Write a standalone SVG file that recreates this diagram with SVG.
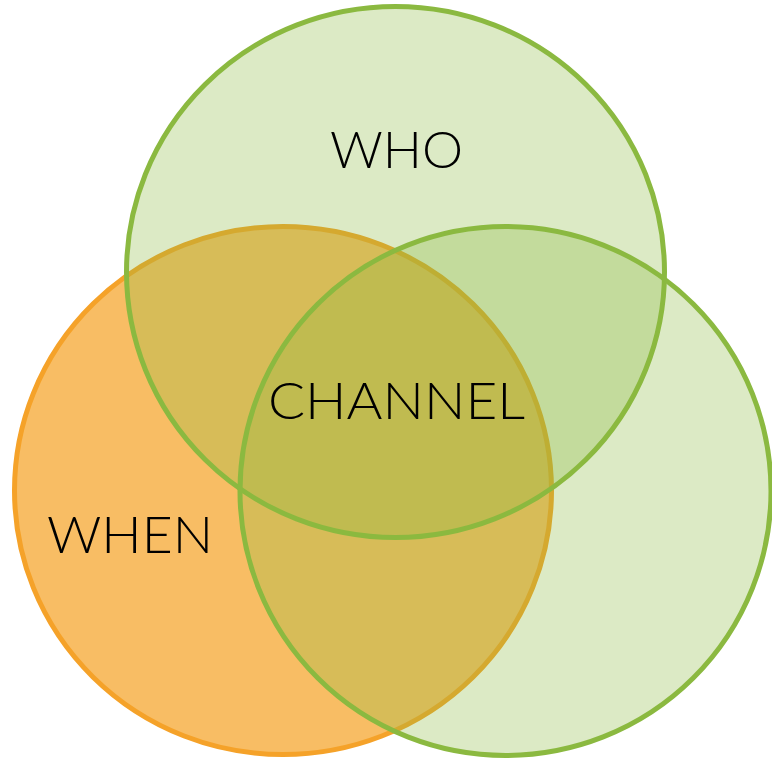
<svg xmlns="http://www.w3.org/2000/svg" width="772" height="762" viewBox="0 0 772 762">
<style>
.orange{fill:#f8bd64;stroke:#f5a229;stroke-width:5}
.green{fill:rgba(139,185,64,0.3);stroke:#8bb940;stroke-width:5}
.lbl{font-family:Lato,"Open Sans","Liberation Sans",sans-serif;font-weight:300;font-size:52px;fill:#000;text-anchor:middle}
</style>
<rect width="772" height="762" fill="#fff"/>
<g id="when">
<ellipse class="orange" cx="283" cy="490.5" rx="268.5" ry="264"/>
</g>
<g id="who">
<ellipse class="green" cx="395.5" cy="272" rx="269" ry="265.5"/>
</g>
<g id="channel-circle">
<ellipse class="green" cx="505.5" cy="491" rx="265.5" ry="264.5"/>
</g>
<g id="labels">
<text class="lbl" x="396.5" y="168" textLength="133" lengthAdjust="spacingAndGlyphs">WHO</text>
<text class="lbl" x="396.5" y="419" textLength="257" lengthAdjust="spacingAndGlyphs">CHANNEL</text>
<text class="lbl" x="130" y="553" textLength="166" lengthAdjust="spacingAndGlyphs">WHEN</text>
</g>
<g id="connectors"></g>
</svg>
